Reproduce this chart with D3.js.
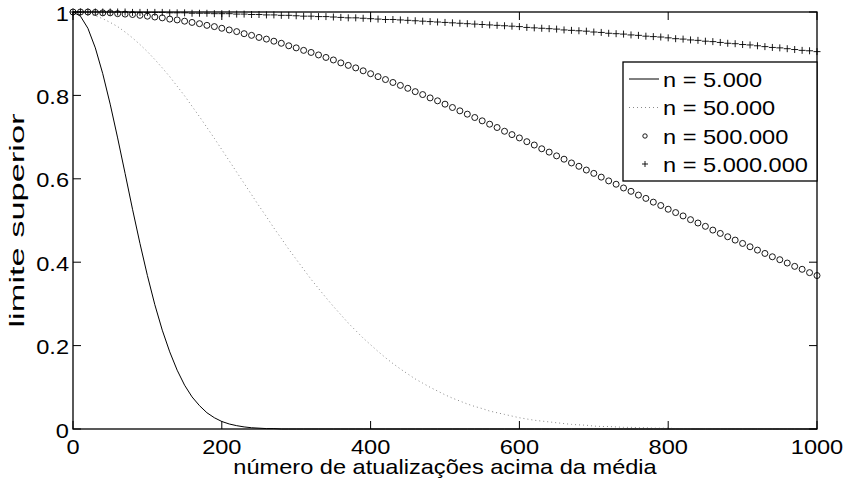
<!DOCTYPE html>
<html>
<head>
<meta charset="utf-8">
<script src="https://cdn.jsdelivr.net/npm/d3@7"></script>
<style>
  body { margin: 0; background: #fff; }
  svg { display: block; font-family: "Liberation Sans", Arial, Helvetica, sans-serif; }
  .lbl { font-size: 20px; fill: #000; }
</style>
</head>
<body>
<svg width="844" height="483"></svg>
<script>
// sample grid (number of updates above the mean)
const updates = [0, 10, 20, 30, 40, 50, 60, 70, 80, 90, 100, 110, 120, 130, 140, 150, 160, 170, 180, 190,
  200, 210, 220, 230, 240, 250, 260, 270, 280, 290, 300, 310, 320, 330, 340, 350, 360, 370, 380, 390,
  400, 410, 420, 430, 440, 450, 460, 470, 480, 490, 500, 510, 520, 530, 540, 550, 560, 570, 580, 590,
  600, 610, 620, 630, 640, 650, 660, 670, 680, 690, 700, 710, 720, 730, 740, 750, 760, 770, 780, 790,
  800, 810, 820, 830, 840, 850, 860, 870, 880, 890, 900, 910, 920, 930, 940, 950, 960, 970, 980, 990, 1000];

// n = 5.000
const n5k = [1, 0.990, 0.961, 0.914, 0.852, 0.779, 0.698, 0.613, 0.527, 0.445, 0.368, 0.298, 0.237, 0.185, 0.141,
  0.105, 0.077, 0.056, 0.039, 0.027, 0.018, 0.012, 0.008, 0.005, 0.003, 0.002, 0.001, 0.001, 0, 0,
  0, 0, 0, 0, 0, 0, 0, 0, 0, 0, 0, 0, 0, 0, 0, 0, 0, 0, 0, 0,
  0, 0, 0, 0, 0, 0, 0, 0, 0, 0, 0, 0, 0, 0, 0, 0, 0, 0, 0, 0,
  0, 0, 0, 0, 0, 0, 0, 0, 0, 0, 0, 0, 0, 0, 0, 0, 0, 0, 0, 0,
  0, 0, 0, 0, 0, 0, 0, 0, 0, 0, 0];

// n = 50.000
const n50k = [1, 0.999, 0.996, 0.991, 0.984, 0.975, 0.965, 0.952, 0.938, 0.922, 0.905, 0.886, 0.866, 0.845, 0.822,
  0.799, 0.774, 0.749, 0.723, 0.697, 0.670, 0.643, 0.616, 0.589, 0.562, 0.535, 0.509, 0.482, 0.457, 0.431,
  0.407, 0.383, 0.359, 0.337, 0.315, 0.294, 0.274, 0.254, 0.236, 0.218, 0.202, 0.186, 0.171, 0.157, 0.144,
  0.132, 0.120, 0.110, 0.100, 0.091, 0.082, 0.074, 0.067, 0.060, 0.054, 0.049, 0.043, 0.039, 0.035, 0.031,
  0.027, 0.024, 0.021, 0.019, 0.017, 0.015, 0.013, 0.011, 0.010, 0.009, 0.007, 0.006, 0.006, 0.005, 0.004,
  0.004, 0.003, 0.003, 0.002, 0.002, 0.002, 0.001, 0.001, 0.001, 0.001, 0.001, 0, 0, 0, 0,
  0, 0, 0, 0, 0, 0, 0, 0, 0, 0, 0];

// n = 500.000
const n500k = [1, 1, 1, 0.999, 0.998, 0.998, 0.996, 0.995, 0.994, 0.992, 0.990, 0.988, 0.986, 0.983, 0.981,
  0.978, 0.975, 0.972, 0.968, 0.965, 0.961, 0.957, 0.953, 0.948, 0.944, 0.939, 0.935, 0.930, 0.925, 0.919,
  0.914, 0.908, 0.903, 0.897, 0.891, 0.885, 0.878, 0.872, 0.866, 0.859, 0.852, 0.845, 0.838, 0.831, 0.824,
  0.817, 0.809, 0.802, 0.794, 0.787, 0.779, 0.771, 0.763, 0.755, 0.747, 0.739, 0.731, 0.723, 0.714, 0.706,
  0.698, 0.689, 0.681, 0.672, 0.664, 0.655, 0.647, 0.638, 0.630, 0.621, 0.613, 0.604, 0.595, 0.587, 0.578,
  0.570, 0.561, 0.553, 0.544, 0.536, 0.527, 0.519, 0.511, 0.502, 0.494, 0.486, 0.477, 0.469, 0.461, 0.453,
  0.445, 0.437, 0.429, 0.421, 0.413, 0.406, 0.398, 0.390, 0.383, 0.375, 0.368];

// n = 5.000.000
const n5m = [1, 1, 1, 1, 1, 1, 1, 1, 0.999, 0.999, 0.999, 0.999, 0.999, 0.998, 0.998,
  0.998, 0.997, 0.997, 0.997, 0.996, 0.996, 0.996, 0.995, 0.995, 0.994, 0.994, 0.993, 0.993, 0.992, 0.992,
  0.991, 0.990, 0.990, 0.989, 0.989, 0.988, 0.987, 0.986, 0.986, 0.985, 0.984, 0.983, 0.982, 0.982, 0.981,
  0.980, 0.979, 0.978, 0.977, 0.976, 0.975, 0.974, 0.973, 0.972, 0.971, 0.970, 0.969, 0.968, 0.967, 0.966,
  0.965, 0.963, 0.962, 0.961, 0.960, 0.959, 0.957, 0.956, 0.955, 0.954, 0.952, 0.951, 0.949, 0.948, 0.947,
  0.945, 0.944, 0.942, 0.941, 0.940, 0.938, 0.936, 0.935, 0.933, 0.932, 0.930, 0.929, 0.927, 0.925, 0.924,
  0.922, 0.921, 0.919, 0.917, 0.915, 0.914, 0.912, 0.910, 0.908, 0.907, 0.905];

const xTicks = [0, 200, 400, 600, 800, 1000];
const yTicks = [0, 0.2, 0.4, 0.6, 0.8, 1];
const yTickLabels = ["0", "0.2", "0.4", "0.6", "0.8", "1"];
const legendLabels = ["n = 5.000", "n = 50.000", "n = 500.000", "n = 5.000.000"];

const svg = d3.select("svg");
const plotL = 73, plotR = 817, plotT = 12, plotB = 429;
const sx = 1.18; // text in the original is a little wider than Arial

const x = d3.scaleLinear().domain([0, 1000]).range([plotL, plotR]);
const y = d3.scaleLinear().domain([0, 1]).range([plotB, plotT]);

function pts(vals) {
  return updates.map(function(u, i) { return [u, vals[i]]; });
}

const line = d3.line()
  .x(function(d) { return x(d[0]); })
  .y(function(d) { return y(d[1]); });

// curves
svg.append("path")
  .attr("d", line(pts(n5k)))
  .attr("fill", "none")
  .attr("stroke", "#000")
  .attr("stroke-width", 1);

svg.append("path")
  .attr("d", line(pts(n50k)))
  .attr("fill", "none")
  .attr("stroke", "#8a8a8a")
  .attr("stroke-width", 1)
  .attr("stroke-dasharray", "1,3");

svg.selectAll(".circ")
  .data(pts(n500k))
  .enter()
  .append("circle")
  .classed("circ", true)
  .attr("cx", function(d) { return x(d[0]); })
  .attr("cy", function(d) { return y(d[1]); })
  .attr("r", 3)
  .attr("fill", "none")
  .attr("stroke", "#000")
  .attr("stroke-width", 0.9);

svg.selectAll(".plus")
  .data(pts(n5m))
  .enter()
  .append("path")
  .classed("plus", true)
  .attr("d", function(d) {
    const px = x(d[0]), py = y(d[1]);
    return "M" + (px - 3.5) + "," + py + "H" + (px + 3.5) + "M" + px + "," + (py - 3.5) + "V" + (py + 3.5);
  })
  .attr("stroke", "#000")
  .attr("stroke-width", 0.9);

// axes box with inward ticks (matlab style)
const tickLen = 8;
const axes = svg.append("g");

axes.append("rect")
  .attr("x", plotL).attr("y", plotT)
  .attr("width", plotR - plotL).attr("height", plotB - plotT)
  .attr("fill", "none")
  .attr("stroke", "#000")
  .attr("stroke-width", 1.3);

axes.selectAll(".xt")
  .data(xTicks)
  .enter()
  .append("path")
  .attr("d", function(d) {
    return "M" + x(d) + "," + plotB + "v" + (-tickLen) + "M" + x(d) + "," + plotT + "v" + tickLen;
  })
  .attr("stroke", "#000");

axes.selectAll(".yt")
  .data(yTicks)
  .enter()
  .append("path")
  .attr("d", function(d) {
    return "M" + plotL + "," + y(d) + "h" + tickLen + "M" + plotR + "," + y(d) + "h" + (-tickLen);
  })
  .attr("stroke", "#000");

axes.selectAll(".xl")
  .data(xTicks)
  .enter()
  .append("text")
  .classed("lbl", true)
  .attr("text-anchor", "middle")
  .attr("transform", function(d) { return "translate(" + x(d) + "," + (plotB + 25) + ") scale(" + sx + ",1)"; })
  .text(function(d) { return d; });

axes.selectAll(".yl")
  .data(yTicks)
  .enter()
  .append("text")
  .classed("lbl", true)
  .attr("text-anchor", "end")
  .attr("transform", function(d) { return "translate(" + (plotL - 4) + "," + (y(d) + 8.5) + ") scale(" + sx + ",1)"; })
  .text(function(d, i) { return yTickLabels[i]; });

svg.append("text")
  .classed("lbl", true)
  .attr("text-anchor", "middle")
  .attr("transform", "translate(" + ((plotL + plotR) / 2) + ",474) scale(" + sx + ",1)")
  .text("número de atualizações acima da média");

// the rotated label is drawn much longer in the original
svg.append("text")
  .classed("lbl", true)
  .attr("text-anchor", "middle")
  .attr("transform", "translate(24," + ((plotT + plotB) / 2) + ") scale(1,1.72) rotate(-90)")
  .text("limite superior");

// legend
const lg = svg.append("g");
lg.append("rect")
  .attr("x", 623).attr("y", 62)
  .attr("width", plotR - 623).attr("height", 119)
  .attr("fill", "#fff")
  .attr("stroke", "#000")
  .attr("stroke-width", 1.3);

const rowY = [79, 107.5, 136, 164];
const sampleX = [629, 659];

lg.append("path")
  .attr("d", "M" + sampleX[0] + "," + rowY[0] + "H" + sampleX[1])
  .attr("stroke", "#000");
lg.append("path")
  .attr("d", "M" + sampleX[0] + "," + rowY[1] + "H" + sampleX[1])
  .attr("stroke", "#8a8a8a")
  .attr("stroke-dasharray", "1,3");
lg.append("circle")
  .attr("cx", 645).attr("cy", rowY[2]).attr("r", 2.2)
  .attr("fill", "none").attr("stroke", "#000").attr("stroke-width", 0.9);
lg.append("path")
  .attr("d", "M642," + rowY[3] + "H648M645," + (rowY[3] - 3) + "V" + (rowY[3] + 3))
  .attr("stroke", "#000").attr("stroke-width", 0.9);

lg.selectAll(".lt")
  .data(legendLabels)
  .enter()
  .append("text")
  .classed("lbl", true)
  .attr("transform", function(d, i) { return "translate(663," + (rowY[i] + 7.5) + ") scale(" + sx + ",1)"; })
  .text(function(d) { return d; });
</script>
</body>
</html>
